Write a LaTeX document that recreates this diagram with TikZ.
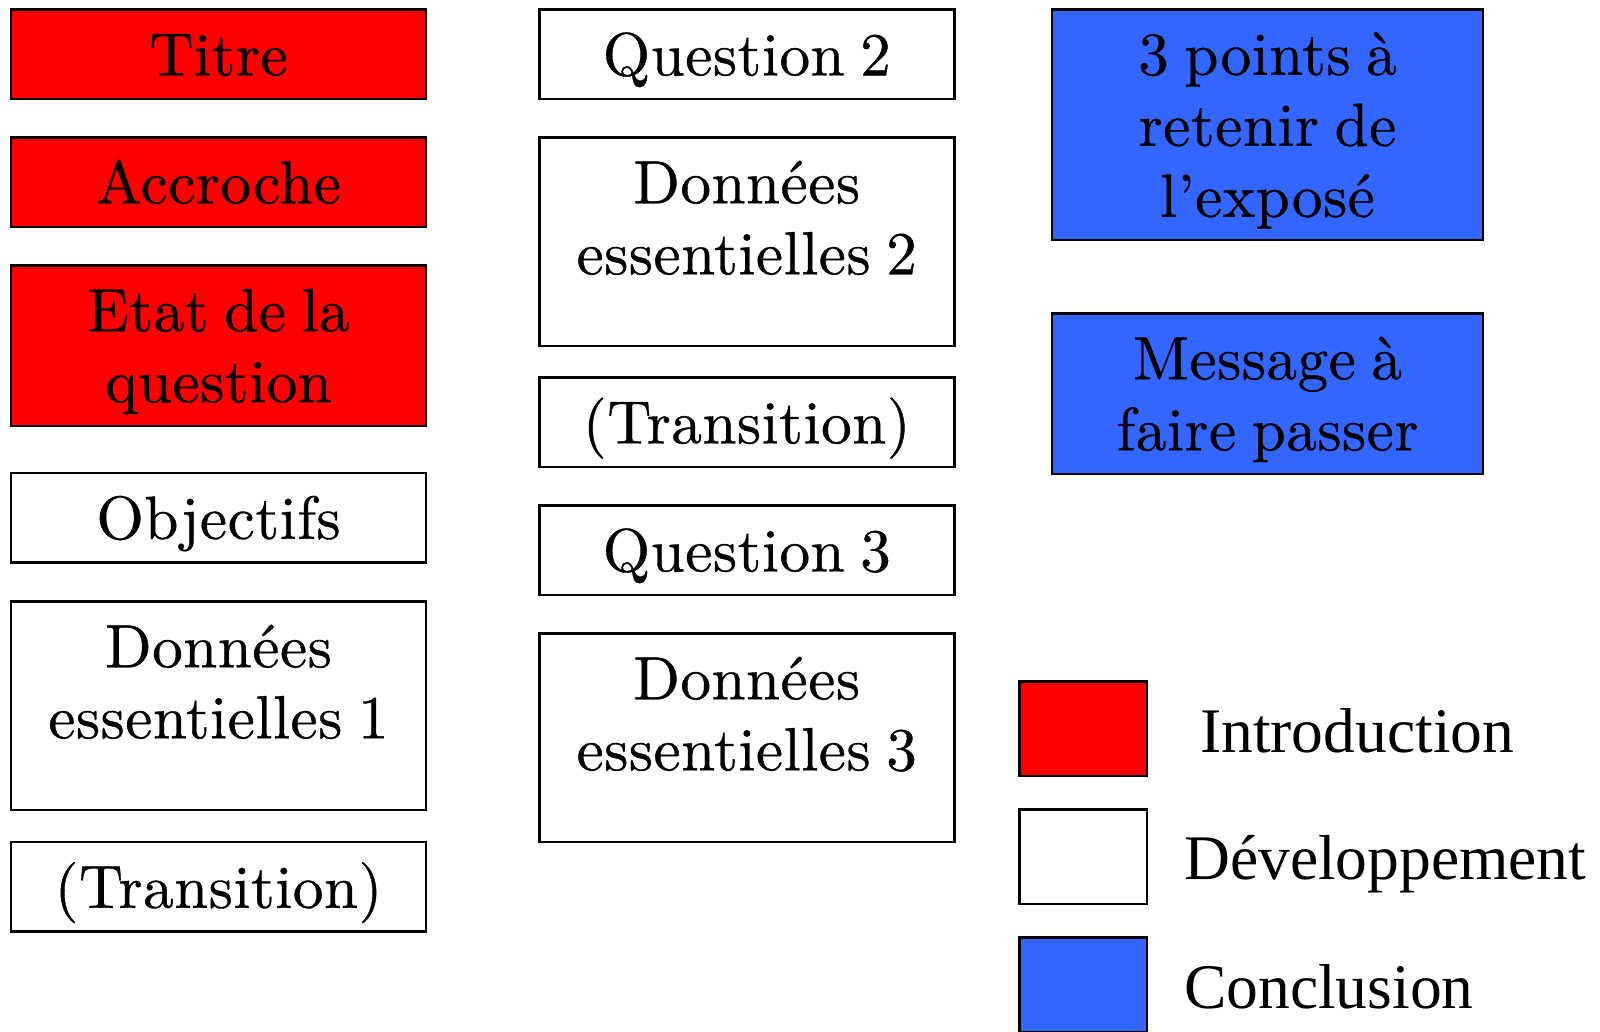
\documentclass[tikz,border=0pt]{standalone}
\usepackage{fontspec}
\newfontfamily\boxfont{lmroman10-regular}[Extension=.otf,FakeBold=0.6,LetterSpace=1.0,WordSpace=0.75]
\newfontfamily\legfont{Liberation Serif}
\definecolor{introred}{RGB}{255,0,0}
\definecolor{conclblue}{RGB}{51,102,255}

\begin{document}
\begin{tikzpicture}[x=1pt,y=-1pt,line width=2.5pt,
                    font=\boxfont\fontsize{61}{71}\selectfont]
\tikzstyle{sheet}=[draw,rectangle,inner sep=0pt,align=center,text depth=0pt,minimum width=415pt]
\tikzstyle{single}=[sheet,minimum height=89.5pt,text height=42.7pt]
\tikzstyle{twoline}=[sheet,minimum height=160.5pt]
\tikzstyle{datbox}=[sheet,minimum height=208.5pt,text depth=48pt]
\tikzstyle{intro}=[fill=introred]
\tikzstyle{concl}=[fill=conclblue]
\tikzstyle{legsq}=[draw,rectangle,inner sep=0pt,minimum width=127.5pt,minimum height=94.5pt]
\tikzstyle{legtext}=[anchor=base west,inner sep=0pt,font=\legfont\fontsize{63.5}{70}\selectfont]
\path[use as bounding box,fill=white] (0,0) rectangle (1600,1031);

% introduction et premier bloc
\node[single,intro] (titre) at (218.5,54) {Titre};
\node[single,intro] (accroche) at (218.5,182) {Accroche};
\node[twoline,intro] (etat) at (218.5,345.5) {Etat de la\\question};
\node[single] (objectifs) at (218.5,517.5) {Objectifs};
\node[datbox] (donnees1) at (218.5,705.5) {Données\\essentielles 1};
\node[single] (transition1) at (218.5,886.5) {(Transition)};

% deuxieme colonne
\node[single] (question2) at (746.75,54) {Question 2};
\node[datbox] (donnees2) at (746.75,241.5) {Données\\essentielles 2};
\node[single] (transition2) at (746.75,422) {(Transition)};
\node[single] (question3) at (746.75,550) {Question 3};
\node[datbox] (donnees3) at (746.75,737.5) {Données\\essentielles 3};

% conclusion
\node[sheet,concl,minimum width=431pt,minimum height=230.5pt] (retenir) at (1267.5,124.5) {3 points à\\retenir de\\l’exposé};
\node[twoline,concl,minimum width=431pt] (message) at (1267.5,393.5) {Message à\\faire passer};

% legende
\node[legsq,intro] (legintro) at (1083,728.5) {};
\node[legsq] (legdev) at (1083,856.5) {};
\node[legsq,concl] (legconcl) at (1083,984.5) {};
\node[legtext] (txtintro) at (1199,752) {Introduction};
\node[legtext] (txtdev) at (1183,879) {Développement};
\node[legtext] (txtconcl) at (1183,1008) {Conclusion};

\end{tikzpicture}
\end{document}
